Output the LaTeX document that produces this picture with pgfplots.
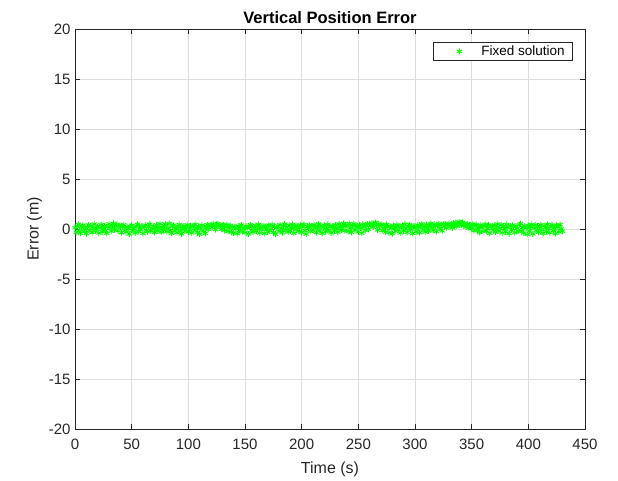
\documentclass[border=0pt]{standalone}
\usepackage{pgfplots}
\pgfplotsset{compat=1.18}
\usepackage{fontspec}
\setmainfont{Liberation Sans}
\definecolor{matgreen}{RGB}{0,255,0}
\definecolor{gridgray}{RGB}{222,222,222}
\definecolor{axisgray}{RGB}{38,38,38}
\begin{document}
\begin{tikzpicture}
\begin{axis}[
  name=ax,
  width=510pt, height=400pt, scale only axis,
  xmin=0, xmax=450, ymin=-20, ymax=20,
  xtick={0,50,...,450}, ytick={-20,-15,...,20},
  grid=major, major grid style={gridgray, line width=0.6pt},
  axis line style={axisgray, line width=0.7pt},
  tick style={axisgray, line width=0.7pt},
  tick align=inside, major tick length=5pt,
  ticklabel style={font=\fontsize{15}{17}\selectfont, text=axisgray},
  xticklabel style={yshift=-6pt},
  yticklabel style={xshift=-1pt},
  /pgf/number format/assume math mode=true,
  title={\bfseries Vertical Position Error},
  title style={font=\fontsize{16.5}{18}\selectfont, yshift=-4pt},
  xlabel={Time (s)}, ylabel={Error (m)},
  label style={font=\fontsize{16}{18}\selectfont, text=axisgray},
  xlabel style={yshift=-6pt},
  ylabel style={yshift=0pt},
  legend style={at={(0.9765,0.9675)}, anchor=north east,
    font=\fontsize{13.5}{15}\selectfont, draw=axisgray, line width=0.7pt,
    inner xsep=6pt, inner ysep=1.5pt, cells={anchor=west}},
  legend image code/.code={\path[draw=none] (0pt,0pt) -- (40pt,0pt);
    \draw plot[only marks] coordinates {(20pt,0pt)};},
]
% vertical error of the fixed solution, one epoch per second
\addplot[only marks, mark=asterisk, mark size=3pt, color=matgreen, mark options={line width=0.9pt}] coordinates {
(0,0.12)(1,-0.33)(2,0.28)(3,0.46)(4,-0.09)(5,-0.42)(6,0.18)(7,0.37)(8,-0.25)(9,0.05)
(10,-0.46)(11,0.21)(12,0.40)(13,-0.13)(14,0.31)(15,-0.36)(16,0.09)(17,0.49)(18,-0.19)(19,-0.03)
(20,0.27)(21,-0.39)(22,0.13)(23,0.43)(24,-0.28)(25,0.06)(26,0.33)(27,-0.16)(28,-0.43)(29,0.22)
(30,0.51)(31,0.10)(32,-0.21)(33,0.39)(34,0.55)(35,-0.07)(36,0.28)(37,0.46)(38,-0.18)(39,0.34)
(40,0.16)(41,-0.37)(42,0.25)(43,0.42)(44,-0.10)(45,-0.31)(46,0.19)(47,0.03)(48,-0.49)(49,0.24)
(50,0.36)(51,-0.15)(52,0.07)(53,-0.40)(54,0.30)(55,0.45)(56,-0.24)(57,0.12)(58,-0.06)(59,0.31)
(60,-0.45)(61,0.18)(62,0.39)(63,-0.12)(64,-0.27)(65,0.22)(66,0.48)(67,-0.18)(68,0.01)(69,0.28)
(70,-0.34)(71,0.13)(72,0.40)(73,-0.21)(74,0.06)(75,0.52)(76,-0.30)(77,0.19)(78,-0.09)(79,0.33)
(80,0.45)(81,-0.25)(82,0.10)(83,0.54)(84,-0.13)(85,-0.42)(86,0.27)(87,0.37)(88,-0.19)(89,0.04)
(90,-0.36)(91,0.24)(92,0.43)(93,-0.07)(94,-0.48)(95,0.16)(96,0.30)(97,-0.22)(98,0.09)(99,0.40)
(100,-0.28)(101,0.03)(102,0.34)(103,-0.39)(104,0.21)(105,-0.12)(106,0.46)(107,0.15)(108,-0.31)(109,0.25)
(110,-0.52)(111,0.07)(112,0.36)(113,-0.18)(114,0.28)(115,-0.43)(116,0.12)(117,0.42)(118,-0.04)(119,0.31)
(120,0.44)(121,0.18)(122,0.50)(123,0.32)(124,-0.06)(125,0.45)(126,0.52)(127,0.27)(128,0.38)(129,-0.03)
(130,0.33)(131,0.42)(132,-0.13)(133,0.21)(134,0.40)(135,-0.24)(136,0.10)(137,0.36)(138,-0.33)(139,0.16)
(140,-0.40)(141,0.24)(142,0.04)(143,-0.46)(144,0.30)(145,-0.15)(146,0.19)(147,0.39)(148,-0.27)(149,0.07)
(150,-0.36)(151,0.28)(152,0.13)(153,-0.49)(154,0.22)(155,0.42)(156,-0.10)(157,-0.30)(158,0.18)(159,0.34)
(160,-0.21)(161,0.06)(162,0.45)(163,-0.39)(164,0.15)(165,-0.07)(166,0.31)(167,-0.45)(168,0.24)(169,0.10)
(170,-0.28)(171,0.37)(172,-0.16)(173,0.03)(174,0.43)(175,-0.34)(176,0.21)(177,-0.52)(178,0.12)(179,0.30)
(180,-0.22)(181,0.40)(182,0.01)(183,-0.37)(184,0.27)(185,0.48)(186,-0.12)(187,0.16)(188,-0.30)(189,0.36)
(190,-0.18)(191,0.09)(192,0.45)(193,-0.42)(194,0.22)(195,-0.06)(196,0.33)(197,-0.25)(198,0.13)(199,0.39)
(200,-0.33)(201,0.19)(202,0.46)(203,-0.15)(204,-0.50)(205,0.25)(206,0.06)(207,0.37)(208,-0.24)(209,0.30)
(210,-0.09)(211,0.42)(212,0.18)(213,-0.36)(214,0.10)(215,0.52)(216,-0.19)(217,0.28)(218,-0.43)(219,0.15)
(220,0.36)(221,-0.27)(222,0.04)(223,0.45)(224,-0.13)(225,0.24)(226,-0.39)(227,0.31)(228,0.16)(229,-0.21)
(230,0.40)(231,0.07)(232,-0.31)(233,0.49)(234,0.21)(235,-0.10)(236,0.33)(237,0.55)(238,-0.16)(239,0.27)
(240,0.43)(241,-0.24)(242,0.54)(243,0.12)(244,-0.34)(245,0.37)(246,0.50)(247,-0.07)(248,0.30)(249,0.18)
(250,-0.28)(251,0.40)(252,0.09)(253,-0.42)(254,0.46)(255,0.22)(256,-0.13)(257,0.34)(258,0.52)(259,-0.03)
(260,0.50)(261,0.30)(262,0.55)(263,0.19)(264,0.44)(265,0.64)(266,0.37)(267,-0.09)(268,0.50)(269,0.28)
(270,0.45)(271,-0.15)(272,0.37)(273,0.12)(274,-0.30)(275,0.45)(276,0.21)(277,-0.36)(278,0.27)(279,0.06)
(280,-0.46)(281,0.33)(282,0.15)(283,-0.22)(284,0.40)(285,-0.07)(286,0.25)(287,-0.39)(288,0.13)(289,0.36)
(290,-0.18)(291,0.48)(292,0.03)(293,-0.33)(294,0.24)(295,0.42)(296,-0.12)(297,0.19)(298,-0.45)(299,0.31)
(300,0.09)(301,-0.27)(302,0.39)(303,0.16)(304,-0.37)(305,0.28)(306,0.51)(307,-0.04)(308,0.22)(309,-0.31)
(310,0.43)(311,0.10)(312,-0.21)(313,0.34)(314,0.55)(315,0.15)(316,-0.13)(317,0.46)(318,0.27)(319,-0.25)
(320,0.37)(321,0.50)(322,0.06)(323,0.40)(324,-0.18)(325,0.46)(326,0.24)(327,0.52)(328,0.10)(329,0.41)
(330,0.55)(331,0.26)(332,0.48)(333,0.12)(334,0.58)(335,0.33)(336,0.64)(337,0.28)(338,0.50)(339,0.72)
(340,0.60)(341,0.38)(342,0.66)(343,0.30)(344,0.52)(345,0.20)(346,0.48)(347,0.08)(348,0.42)(349,0.24)
(350,0.12)(351,0.49)(352,-0.16)(353,0.30)(354,0.43)(355,-0.09)(356,0.22)(357,-0.34)(358,0.39)(359,0.13)
(360,-0.25)(361,0.33)(362,0.46)(363,-0.19)(364,0.06)(365,0.40)(366,-0.42)(367,0.21)(368,0.28)(369,-0.12)
(370,0.36)(371,-0.30)(372,0.15)(373,0.49)(374,-0.22)(375,0.09)(376,0.42)(377,-0.39)(378,0.25)(379,0.03)
(380,-0.28)(381,0.45)(382,0.16)(383,-0.46)(384,0.31)(385,-0.10)(386,0.37)(387,0.21)(388,-0.36)(389,0.27)
(390,0.07)(391,-0.24)(392,0.40)(393,0.52)(394,-0.15)(395,0.18)(396,-0.40)(397,0.30)(398,0.12)(399,-0.55)
(400,0.34)(401,-0.21)(402,0.24)(403,0.45)(404,-0.49)(405,0.10)(406,0.39)(407,-0.13)(408,0.28)(409,-0.33)
(410,0.19)(411,0.42)(412,-0.07)(413,-0.43)(414,0.33)(415,0.15)(416,-0.27)(417,0.46)(418,0.06)(419,-0.37)
(420,0.25)(421,0.40)(422,-0.18)(423,0.12)(424,-0.45)(425,0.36)(426,0.21)(427,-0.30)(428,0.43)(429,0.01)
(430,-0.22)
};
\addlegendentry{Fixed solution}
\end{axis}
% white margin round the figure
\path ([shift={(-75pt,-52pt)}]ax.south west) rectangle ([shift={(33pt,29pt)}]ax.north east);
\end{tikzpicture}
\end{document}
